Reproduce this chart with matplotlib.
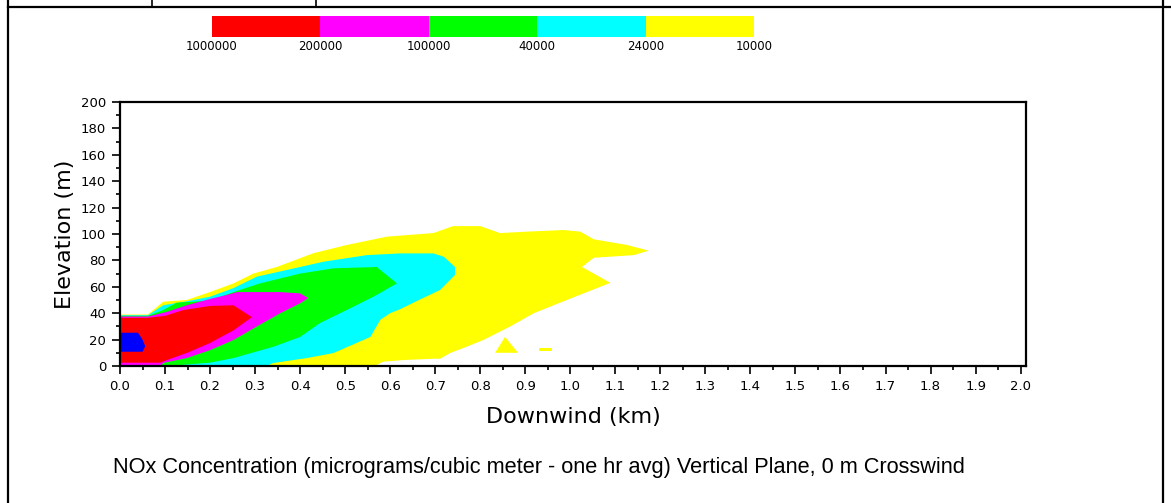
import numpy as np
import matplotlib.pyplot as plt
from matplotlib.lines import Line2D

# concentration levels shown in the legend bar (micrograms/m3)
level_labels = ["1000000", "200000", "100000", "40000", "24000", "10000"]
level_colors = ["#ff0000", "#ff00ff", "#00ff00", "#00ffff", "#ffff00"]

# contour outlines, downwind (km) / elevation (m), outermost first
yellow_x = [0, 0, 0.062, 0.096, 0.148, 0.2, 0.252, 0.296, 0.348, 0.43, 0.504, 0.593, 0.696, 0.74, 0.8,
            0.844, 0.904, 0.985, 1.022, 1.052, 1.126, 1.174, 1.141, 1.052, 1.026, 1.089, 1.037, 0.963,
            0.919, 0.867, 0.807, 0.77, 0.733, 0.711, 0.696, 0.63, 0.585, 0.565]
yellow_y = [0, 39, 39, 48.7, 50, 56, 62.6, 70, 75, 85.5, 91.7, 98, 100.7, 106, 106,
            100.7, 101.8, 103, 101.8, 96, 91.7, 87.4, 84, 82, 75, 63, 56, 46,
            40, 30, 19.7, 14.6, 9.8, 5.5, 5.5, 4.5, 3.3, 0]
island1_x = [0.833, 0.855, 0.884]
island1_y = [10, 22, 10]
island2_x = [0.931, 0.96, 0.96, 0.931]
island2_y = [11.6, 11.6, 13.4, 13.4]

cyan_x = [0, 0, 0.062, 0.096, 0.148, 0.2, 0.252, 0.304, 0.37, 0.452, 0.548, 0.622, 0.696, 0.719,
          0.744, 0.744, 0.711, 0.667, 0.622, 0.6, 0.578, 0.556, 0.474, 0.415, 0.341, 0.325]
cyan_y = [0, 38.5, 38.5, 46, 49, 52.5, 59, 67.7, 72.7, 79, 84, 85.3, 85.3, 82.8,
          75, 69, 57.6, 50.5, 43, 40, 35, 22, 9.8, 6, 2.3, 0]

green_x = [0, 0, 0.062, 0.096, 0.126, 0.2, 0.252, 0.311, 0.4, 0.474, 0.57, 0.615, 0.563, 0.519,
           0.444, 0.4, 0.341, 0.252, 0.2, 0.104]
green_y = [0, 38, 38, 42.4, 48, 49.5, 56, 62.6, 70, 74, 75, 62.6, 52.5, 45,
           32.5, 22, 14.6, 6, 2.5, 0]

magenta_x = [0, 0, 0.062, 0.104, 0.148, 0.2, 0.237, 0.26, 0.356, 0.4, 0.418, 0.4, 0.356, 0.304,
             0.252, 0.2, 0.148, 0.096, 0.09]
magenta_y = [0, 37.5, 37.5, 41, 46, 50.8, 53.8, 56, 56, 55, 51.5, 47.5, 40, 30,
             19.7, 12, 6, 2.3, 0]

red_x = [0, 0, 0.062, 0.1, 0.141, 0.2, 0.252, 0.293, 0.252, 0.2, 0.148, 0.104, 0.089]
red_y = [2.5, 36.5, 36.5, 38, 42.4, 45.5, 46, 37, 27, 17.4, 9.8, 4.5, 2.5]

blue_x = [0, 0, 0.04, 0.05, 0.056, 0.05]
blue_y = [10.8, 25.2, 25.2, 20, 15, 10.8]

fig = plt.figure(figsize=(11.71, 5.03), dpi=100)

# table frame around the figure
fig.add_artist(Line2D([8/1171, 8/1171], [0, 1], color='black', lw=1.6))
fig.add_artist(Line2D([1163/1171, 1163/1171], [0, 1], color='black', lw=1.6))
fig.add_artist(Line2D([8/1171, 1], [1-7/503, 1-7/503], color='black', lw=1.6))
for xp in [152, 316]:
    fig.add_artist(Line2D([xp/1171, xp/1171], [1-7/503, 1], color='black', lw=1.2))

# legend bar
cax = fig.add_axes([212/1171, 1-37/503, 542/1171, 21/503])
cax.bar(np.arange(5), 1, width=1, align='edge', color=level_colors, linewidth=0)
cax.set_xlim(0, 5)
cax.set_ylim(0, 1)
cax.set_yticks([])
cax.set_xticks(np.arange(6))
cax.set_xticklabels(level_labels, fontsize=8.5)
cax.tick_params(axis='x', length=0, pad=2)
for s in cax.spines.values():
    s.set_visible(False)

ax = fig.add_axes([120/1171, 1-366/503, 906/1171, 264/503])
ax.fill(yellow_x, yellow_y, color=level_colors[4], lw=0)
ax.fill(island1_x, island1_y, color=level_colors[4], lw=0)
ax.fill(island2_x, island2_y, color=level_colors[4], lw=0)
ax.fill(cyan_x, cyan_y, color=level_colors[3], lw=0)
ax.fill(green_x, green_y, color=level_colors[2], lw=0)
ax.fill(magenta_x, magenta_y, color=level_colors[1], lw=0)
ax.fill(red_x, red_y, color=level_colors[0], lw=0)
ax.fill(blue_x, blue_y, color="#0000ff", lw=0)

ax.set_xlim(0, 2.012)
ax.set_ylim(0, 200)
ax.set_xticks(np.arange(0, 2.01, 0.1))
ax.set_xticklabels(["%.1f" % v for v in np.arange(0, 2.01, 0.1)])
ax.set_xticks(np.arange(0.05, 2.0, 0.1), minor=True)
ax.set_yticks(np.arange(0, 201, 20))
ax.set_yticks(np.arange(10, 200, 20), minor=True)
ax.tick_params(which='major', direction='out', length=6, width=1.2, labelsize=9.5, pad=4)
ax.tick_params(which='minor', direction='out', length=3, width=1.2)
for s in ax.spines.values():
    s.set_linewidth(1.6)

ax.set_xlabel("Downwind (km)", fontsize=16, labelpad=10)
ax.set_ylabel("Elevation (m)", fontsize=16, labelpad=4)

fig.text(113/1171, 1-467/503, "NOx Concentration (micrograms/cubic meter - one hr avg) Vertical Plane, 0 m Crosswind",
         fontsize=15.7, family='Liberation Sans', va='center', ha='left')

plt.savefig("out.png", dpi=100)
plt.close()
